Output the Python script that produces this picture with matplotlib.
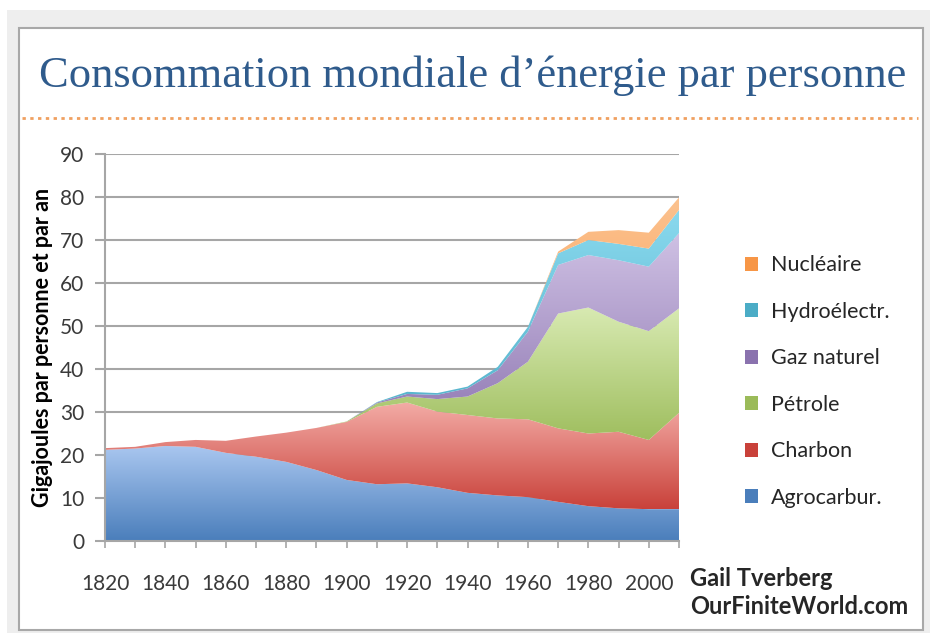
import numpy as np
import matplotlib
matplotlib.use("Agg")
import matplotlib.pyplot as plt
from matplotlib.colors import LinearSegmentedColormap
from matplotlib.patches import Rectangle, Patch
from matplotlib.lines import Line2D

years = list(range(1820, 2011, 10))

# gigajoules per person per year, by source
agrocarbur = [21.2, 21.5, 22.1, 21.9, 20.5, 19.6, 18.4, 16.5, 14.2, 13.2,
              13.4, 12.5, 11.2, 10.6, 10.2, 9.1, 8.1, 7.6, 7.4, 7.4]
charbon = [0.4, 0.4, 0.9, 1.6, 2.8, 4.7, 6.8, 9.8, 13.5, 18.0,
           18.8, 17.6, 18.1, 17.9, 18.1, 17.1, 16.9, 17.8, 16.1, 22.4]
petrole = [0, 0, 0, 0, 0, 0, 0, 0, 0.1, 0.8,
           1.4, 2.9, 4.3, 8.2, 13.4, 26.7, 29.3, 25.6, 25.3, 24.3]
gaz = [0, 0, 0, 0, 0, 0, 0, 0, 0, 0.2,
       0.6, 1.0, 1.9, 3.0, 7.0, 11.3, 12.2, 14.3, 15.0, 17.5]
hydro = [0, 0, 0, 0, 0, 0, 0, 0, 0, 0.1,
         0.5, 0.4, 0.4, 0.8, 1.1, 2.7, 3.5, 3.8, 4.2, 5.4]
nucleaire = [0, 0, 0, 0, 0, 0, 0, 0, 0, 0,
             0, 0, 0, 0, 0, 0.4, 1.9, 3.2, 3.7, 2.9]

labels = ["Agrocarbur.", "Charbon", "Pétrole", "Gaz naturel", "Hydroélectr.", "Nucléaire"]
series = [agrocarbur, charbon, petrole, gaz, hydro, nucleaire]
# (top colour, bottom colour) of the excel-like gradient
colours = [("#aac7f0", "#4a7ebb"), ("#f3aca6", "#c9413a"), ("#d8eab2", "#9bbb59"),
           ("#cfc1e4", "#8a72ae"), ("#8ad9ee", "#4bacc6"), ("#fcc28f", "#f79646")]

fig = plt.figure(figsize=(9.3, 6.33), dpi=100)
W, H = 930, 633

# grey surround and white panel
fig.patches.append(Rectangle((7 / W, 0), 923 / W, 623 / H, transform=fig.transFigure,
                             facecolor="#eeeeee", edgecolor="none", zorder=-3))
fig.patches.append(Rectangle((19 / W, 3 / H), 904 / W, 602 / H, transform=fig.transFigure,
                             facecolor="white", edgecolor="#a8a8a8", lw=1.5, zorder=-2))

fig.text(473 / W, 1 - 76 / H, "Consommation mondiale d\u2019énergie par personne",
         ha="center", va="center", family="Liberation Serif", fontsize=32, color="#2f5b8c")
fig.add_artist(Line2D([22 / W, 918 / W], [1 - 118 / H, 1 - 118 / H], transform=fig.transFigure,
                      color="#f0a060", lw=2, linestyle=(0, (1.2, 1.6))))

ax = fig.add_axes([105 / W, 1 - 541 / H, 574 / W, 387 / H])
x = np.array(years, dtype=float)
base = np.zeros(len(years))
handles = []
for vals, lab, (ctop, cbot) in zip(series, labels, colours):
    top = base + np.array(vals)
    poly = ax.fill_between(x, base, top, facecolor="none", edgecolor="none", zorder=2)
    cmap = LinearSegmentedColormap.from_list(lab, [cbot, ctop])
    grad = np.linspace(0, 1, 256).reshape(-1, 1)
    y0, y1 = base.min(), max(top.max(), base.min() + 1)
    im = ax.imshow(grad, cmap=cmap, aspect="auto", origin="lower",
                   extent=[x[0], x[-1], y0, y1], zorder=2)
    im.set_clip_path(poly.get_paths()[0], transform=ax.transData)
    handles.append(Patch(facecolor=cbot, edgecolor="none", label=lab))
    base = top

ax.set_xlim(1820, 2010)
ax.set_ylim(0, 90)
ax.set_yticks(range(0, 91, 10))
ax.set_xticks(range(1820, 2011, 20))
ax.set_xticks(range(1820, 2011, 10), minor=True)
ax.yaxis.grid(True, color="#a6a6a6", lw=1.5, zorder=1)
ax.set_axisbelow(True)
for s in ["top", "right"]:
    ax.spines[s].set_visible(False)
for s in ["left", "bottom"]:
    ax.spines[s].set_color("#a6a6a6")
    ax.spines[s].set_linewidth(1.5)
ax.tick_params(axis="y", length=7, width=1.5, color="#a6a6a6", pad=8,
               labelsize=15, labelcolor="#3a3a3a")
ax.tick_params(axis="x", which="both", length=5, width=1.2, color="#a6a6a6", pad=19,
               labelsize=15, labelcolor="#3a3a3a")
for t in ax.get_xticklabels() + ax.get_yticklabels():
    t.set_family("Lato")
ax.set_ylabel("Gigajoules par personne et par an", family="Lato", fontweight="bold",
              fontsize=15.5, color="black", labelpad=5)

leg = fig.legend(handles=handles[::-1], loc="upper left",
                 bbox_to_anchor=(726 / W, 1 - 236 / H), frameon=False,
                 prop={"family": "Lato", "size": 15.5}, handlelength=0.6, handleheight=0.6,
                 handletextpad=0.6, labelspacing=1.23)
for t in leg.get_texts():
    t.set_color("#262626")

fig.text(690 / W, 1 - 578 / H, "Gail Tverberg", family="Lato", fontweight="bold",
         fontsize=17, color="#262626", va="center")
fig.text(690 / W, 1 - 606 / H, "OurFiniteWorld.com", family="Lato", fontweight="bold",
         fontsize=17, color="#262626", va="center")

fig.savefig("out.png", dpi=100)
